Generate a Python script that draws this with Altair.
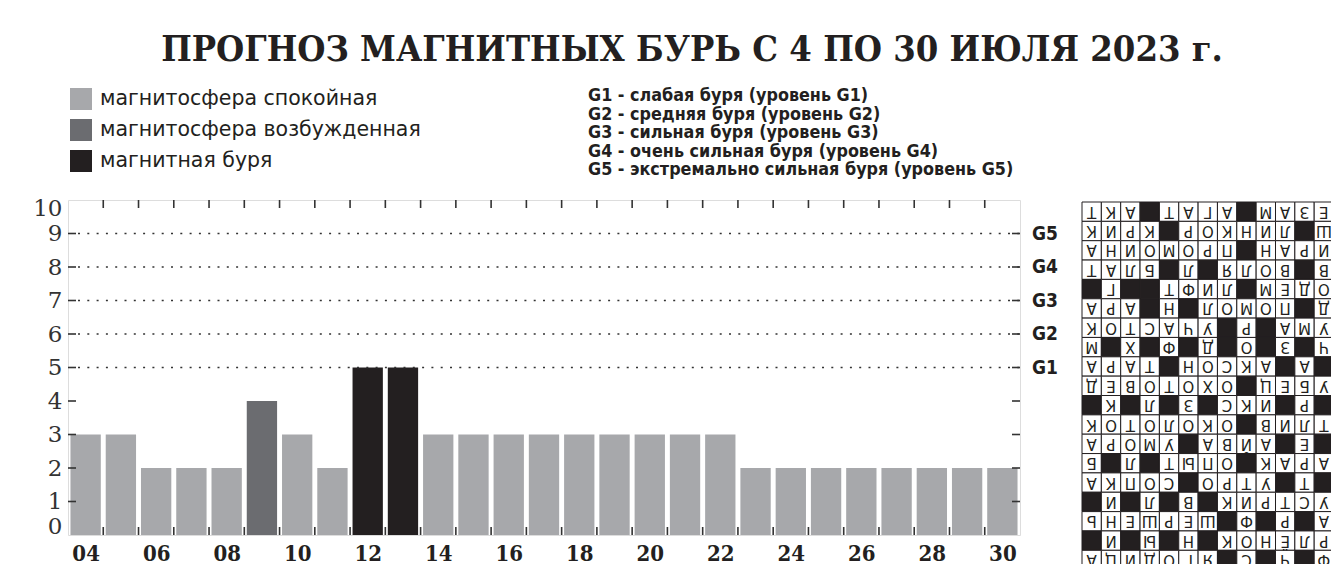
import altair as alt
import pandas as pd

# ---------------- data ----------------
TITLE = "ПРОГНОЗ МАГНИТНЫХ БУРЬ С 4 ПО 30 ИЮЛЯ 2023 г."

S = "магнитосфера спокойная"
V = "магнитосфера возбужденная"
B = "магнитная буря"
state_order = [S, V, B]
state_colors = ["#a7a8ab", "#6b6c70", "#231f20"]

days = [4, 5, 6, 7, 8, 9, 10, 11, 12, 13, 14, 15, 16, 17, 18, 19, 20, 21, 22,
        23, 24, 25, 26, 27, 28, 29, 30]
kp = [3, 3, 2, 2, 2, 4, 3, 2, 5, 5, 3, 3, 3, 3, 3, 3, 3, 3, 3,
      2, 2, 2, 2, 2, 2, 2, 2]
state = [S, S, S, S, S, V, S, S, B, B, S, S, S, S, S, S, S, S, S,
         S, S, S, S, S, S, S, S]

x_label_days = [4, 6, 8, 10, 12, 14, 16, 18, 20, 22, 24, 26, 28, 30]
y_label_values = [0, 1, 2, 3, 4, 5, 6, 7, 8, 9, 10]
y_minor_ticks = [1, 2, 3, 4, 5, 6, 7, 8, 9]
g_levels = [5, 6, 7, 8, 9]
g_labels = ["G1", "G2", "G3", "G4", "G5"]
g_desc = [
    "G1 - слабая буря (уровень G1)",
    "G2 - средняя буря (уровень G2)",
    "G3 - сильная буря (уровень G3)",
    "G4 - очень сильная буря (уровень G4)",
    "G5 - экстремально сильная буря (уровень G5)",
]

# crossword fragment (upside down in the source), '#' = black cell
cw_rows = [
    "Т К А # Т А Г А # М А З Е",
    "К И Р К # Р О К Н И Л # Ш",
    "А Н И О М О Р П # Н А Р И",
    "Т А Л Б # Л # Я Л О В # В",
    "# Г # # Т Ф И Л # М Е Д О",
    "А Р А # Н # Л О М О П # Д",
    "К О Т С А Ч У # Р # А М У",
    "М # Х # Ф # Д # О # З # Ч",
    "А Р А Т # Н О С К А # А #",
    "Д Е В О Т О Х О # Ц Е Б У",
    "# К # Л # З # С К И # Р #",
    "К О Т О Л О К О # В И Л Т",
    "А Р О М У # А В Й А # Е #",
    "Б # Л # Т Ы П О # К А Р А",
    "А К П О С # О Р Т У # Т #",
    "# И # Л # В # К И Р Т С У",
    "Ь Н Е Ш Р Е Ш # Ф # Р # А",
    "# И # Ы # Н # К О Н Ё Л Р",
    "А Ц И Д О Г Я # С # Ч # Ф",
]

# ---------------- tables ----------------
df_bars = pd.DataFrame({"day": days, "kp": kp, "state": state})
df_grid = pd.DataFrame({"v": g_levels, "g": g_labels})
df_xt = pd.DataFrame({"day": days[:-1]})
df_yt = pd.DataFrame({"v": y_minor_ticks})
df_title = pd.DataFrame({"t": [TITLE]})
df_one = pd.DataFrame({"a": [0]})
cw_records = []
for r, line in enumerate(cw_rows):
    for c, tok in enumerate(line.split()):
        cw_records.append({"r": r, "c": c, "t": tok})
df_cw = pd.DataFrame(cw_records)

W, H = 952, 335
INK = "#231f20"
TICK = "#333333"

xs = alt.Scale(domain=[3.5, 30.5], nice=False, zero=False)
ys = alt.Scale(domain=[0, 10], nice=False)

x_axis = alt.Axis(values=x_label_days, title=None,
                  labelExpr="datum.value < 10 ? '0' + datum.value : '' + datum.value",
                  ticks=False, domain=False, grid=False,
                  labelFont="DejaVu Serif Condensed", labelFontWeight="bold",
                  labelFontSize=22, labelColor=INK, labelPadding=8,
                  labelFlush=False, labelOverlap=False)
y_axis = alt.Axis(values=y_label_values, title=None, ticks=False, domain=False,
                  grid=False, labelFont="DejaVu Serif", labelFontSize=23,
                  labelColor="#333333", labelPadding=6, labelOverlap=False,
                  labelFlush=True, labelFlushOffset=3)


def X(field):
    return alt.X(field, type="quantitative", scale=xs, axis=x_axis, title=None)


def Y(field):
    return alt.Y(field, type="quantitative", scale=ys, axis=y_axis, title=None)


bars = alt.Chart(df_bars).transform_calculate(
    x0="datum.day - 0.43", x1="datum.day + 0.43"
).mark_rect().encode(
    x=X("x0"),
    x2="x1:Q",
    y=Y("kp"),
    y2=alt.datum(0),
    color=alt.Color("state:N",
                    scale=alt.Scale(domain=state_order, range=state_colors),
                    legend=alt.Legend(title=None, orient="none", legendX=2, legendY=-112,
                                      symbolType="square", symbolSize=484,
                                      symbolStrokeWidth=0, symbolOpacity=1,
                                      labelFont="DejaVu Sans", labelFontSize=20.5,
                                      labelColor=INK, labelOffset=8, rowPadding=9,
                                      padding=0, labelLimit=400)),
)

grid = alt.Chart(df_grid).mark_rule(strokeDash=[2, 7.3], color=TICK, strokeWidth=1.6).encode(
    y=Y("v"), x=alt.value(10), x2=alt.value(W)
)

g_text = alt.Chart(df_grid).mark_text(
    align="left", baseline="middle", font="DejaVu Sans Condensed",
    fontWeight="bold", fontSize=19, color=INK
).encode(y=Y("v"), x=alt.value(W + 12), text="g:N")

xt_bottom = alt.Chart(df_xt).transform_calculate(b="datum.day + 0.5").mark_rule(
    color=TICK, strokeWidth=1.6
).encode(x=X("b"), y=alt.value(H), y2=alt.value(H - 8))

xt_top = alt.Chart(df_xt).transform_calculate(b="datum.day + 0.5").mark_rule(
    color=TICK, strokeWidth=1.6
).encode(x=X("b"), y=alt.value(0), y2=alt.value(8))

yt_left = alt.Chart(df_yt).mark_rule(color=TICK, strokeWidth=1.6).encode(
    y=Y("v"), x=alt.value(0), x2=alt.value(8)
)
yt_right = alt.Chart(df_yt).mark_rule(color=TICK, strokeWidth=1.6).encode(
    y=Y("v"), x=alt.value(W - 8), x2=alt.value(W)
)

title_text = alt.Chart(df_title).mark_text(
    font="DejaVu Serif Condensed", fontWeight="bold", fontSize=36,
    align="center", baseline="alphabetic", color=INK
).encode(x=alt.value(624), y=alt.value(-139), text="t:N")

g_legend = alt.Chart(df_one).mark_text(
    text=g_desc, lineHeight=18.6, align="left", baseline="alphabetic",
    font="DejaVu Sans Condensed", fontWeight="bold", fontSize=17.8, color=INK
).encode(x=alt.value(520), y=alt.value(-99))

main = alt.layer(bars, grid, g_text, xt_bottom, xt_top, yt_left, yt_right,
                 title_text, g_legend)

CELL = 19.35
cxs = alt.Scale(domain=[0, 13], range=[1014, 1014 + 13 * CELL], nice=False, zero=False)
cys = alt.Scale(domain=[0, 19], range=[2, 2 + 19 * CELL], nice=False, zero=False)

cells = alt.Chart(df_cw).transform_calculate(
    c1="datum.c + 1", r1="datum.r + 1"
).mark_rect(stroke=INK, strokeWidth=1).encode(
    x=alt.X("c:Q", scale=cxs, axis=None), x2="c1:Q",
    y=alt.Y("r:Q", scale=cys, axis=None), y2="r1:Q",
    fill=alt.condition("datum.t == '#'", alt.value(INK), alt.value("white")),
)

letters = alt.Chart(df_cw).transform_filter("datum.t != '#'").transform_calculate(
    cx="datum.c + 0.5", cy="datum.r + 0.5"
).mark_text(angle=180, fontSize=15, font="DejaVu Sans", color=INK,
            align="center", baseline="middle").encode(
    x=alt.X("cx:Q", scale=cxs, axis=None),
    y=alt.Y("cy:Q", scale=cys, axis=None),
    text="t:N",
)

cross = alt.layer(cells, letters)

chart = alt.layer(main, cross).resolve_scale(
    x="independent", y="independent"
).properties(
    width=W, height=H,
    padding={"left": 60, "top": 192, "right": 311, "bottom": 29},
    autosize=alt.AutoSizeParams(type="none"),
    background="white",
).configure_view(stroke="#333333", strokeWidth=2).configure_axis(
    labelOverlap=False
).configure(font="DejaVu Sans")

chart.save("out.html", embed_options={"renderer": "svg", "actions": False})
